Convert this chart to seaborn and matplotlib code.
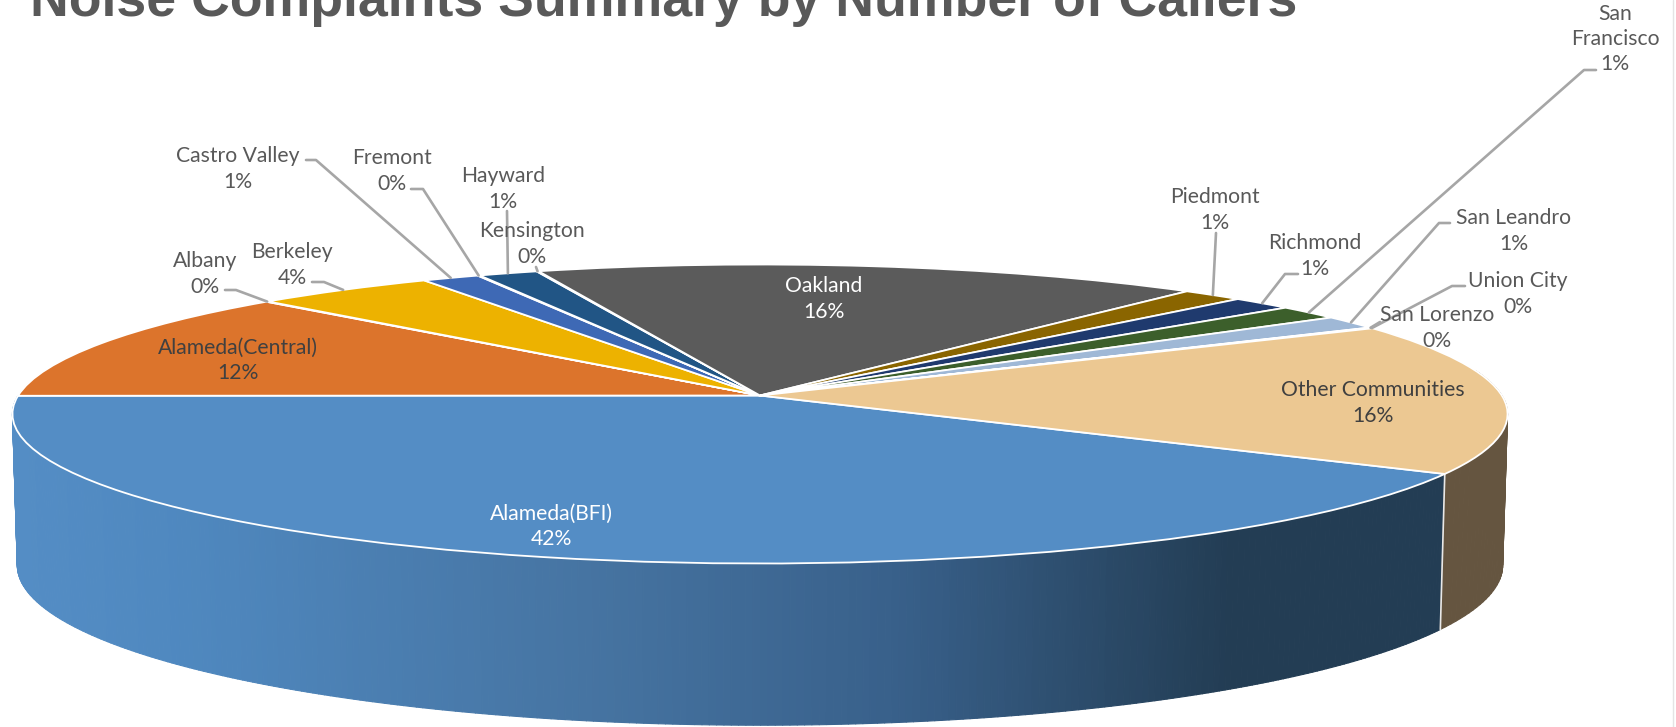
import numpy as np
import matplotlib
matplotlib.use("Agg")
import matplotlib.pyplot as plt
import matplotlib.transforms as mtransforms
from matplotlib.collections import PolyCollection
from matplotlib.colors import LinearSegmentedColormap
import seaborn as sns

# ---- data ----
title = "Noise Complaints Summary by Number of Callers"
categories = ["Alameda(BFI)", "Alameda(Central)", "Albany", "Berkeley", "Castro Valley",
              "Fremont", "Hayward", "Kensington", "Oakland", "Piedmont", "Richmond",
              "San\nFrancisco", "San Leandro", "San Lorenzo", "Union City", "Other Communities"]
values = [41.7, 12.2, 0.05, 4.45, 1.4, 0.05, 1.45, 0.05, 16.3, 1.5, 1.5, 1.55, 1.45, 0.05, 0.05, 16.4]
shown_pct = ["42%", "12%", "0%", "4%", "1%", "0%", "1%", "0%", "16%", "1%", "1%", "1%", "1%", "0%", "0%", "16%"]
colors = ["#548DC5", "#DC742C", "#A5A5A5", "#EDB200", "#3E69B5", "#6E9F45", "#215585", "#A5501F",
          "#5B5B5B", "#8A6500", "#1F3A6E", "#3C5F2B", "#9FB8D6", "#E2A26F", "#B0B0B0", "#ECC892"]

# ---- layout (pixels) ----
W, H = 1676, 727
CX = 760.0
TOP = dict(rx=741.8, ry=147.2, cy=395.5)
BOT = dict(rx=737.0, ry=157.5, cy=545.5)
P = 0.1237
START = -30.0
label_xy = [(551, 526), (238, 360), (205, 274), (292, 265), (238, 169), (392, 171), (503, 189),
            (532, 244), (824, 299), (1215, 210), (1315, 256), (1615, 39), (1514, 231), (1437, 328),
            (1518, 294), (1373, 403)]
label_color = ["white", "#404040", "#595959", "#595959", "#595959", "#595959", "#595959", "#595959",
               "white", "#595959", "#595959", "#595959", "#595959", "#595959", "#595959", "#404040"]
leaders = {2: [(225, 290), (236, 290)], 3: [(312, 282), (324, 282)], 4: [(306, 160), (316, 160)],
           5: [(411, 189), (423, 189)], 6: [(507, 211)], 7: [(536, 267)], 9: [(1216, 233)],
           10: [(1298, 274), (1285, 274)], 11: [(1596, 70), (1584, 70)], 12: [(1450, 223), (1439, 223)],
           13: [(1380, 322)], 14: [(1465, 286), (1452, 286)]}

sns.set_theme(style="white")
plt.rcParams["font.family"] = ["Lato", "DejaVu Sans"]
palette = sns.color_palette(colors)


def project(u, v, g=TOP):
    d = 1 + P * v
    return CX + g["rx"] * u / d, g["cy"] - g["ry"] * v / d


class Perspective(mtransforms.Transform):
    input_dims = output_dims = 2
    is_separable = False
    has_inverse = False

    def transform_non_affine(self, values):
        a = np.asarray(values, dtype=float)
        x, y = project(a[:, 0], a[:, 1])
        return np.column_stack([x, y])


fig, ax = plt.subplots(figsize=(W / 100, H / 100), dpi=100)
fig.subplots_adjust(0, 0, 1, 1)

wedges, _ = ax.pie(values, colors=palette, startangle=START, counterclock=False,
                   wedgeprops=dict(edgecolor="white", linewidth=1.3))
ax.set_aspect("auto")
ax.set_xlim(0, W)
ax.set_ylim(H, 0)
ax.axis("off")
tr = Perspective() + ax.transData
for w in wedges:
    w.set_transform(tr)
    w.set_zorder(3)

# angular limits of each slice, from the values
frac = np.array(values) / np.sum(values)
edges = START - 360 * np.concatenate([[0], np.cumsum(frac)])
mid = (edges[:-1] + edges[1:]) / 2


def wall_quads(a0, a1, n):
    th = np.radians(np.linspace(a0, a1, n + 1))
    xt, yt = project(np.cos(th), np.sin(th), TOP)
    xb, yb = project(np.cos(th), np.sin(th), BOT)
    quads = [[(xt[i], yt[i]), (xt[i + 1], yt[i + 1]), (xb[i + 1], yb[i + 1]), (xb[i], yb[i])] for i in range(n)]
    return quads, (xt[:-1] + xt[1:]) / 2


# gradient wall of the first slice
shade = LinearSegmentedColormap.from_list("wall", [(0, "#548DC5"), (0.12, "#4F88BF"), (0.40, "#4674A2"),
                                                   (0.62, "#38608A"), (0.85, "#233D54"), (1, "#233D54")])
quads, xm = wall_quads(edges[1], edges[0], 300)
shades = [shade(np.clip((x - 13) / (1445 - 13), 0, 1)) for x in xm]
ax.add_collection(PolyCollection(quads, facecolors=shades, edgecolors=shades, linewidths=0.8, zorder=1))
# wall of the last slice
quads2, _ = wall_quads(edges[0], edges[0] + 40, 40)
ax.add_collection(PolyCollection(quads2, facecolors="#655540", edgecolors="#655540", linewidths=0.8, zorder=1))
# seam between both walls
th0 = np.radians(START)
ax.plot([project(np.cos(th0), np.sin(th0), TOP)[0], project(np.cos(th0), np.sin(th0), BOT)[0]],
        [project(np.cos(th0), np.sin(th0), TOP)[1], project(np.cos(th0), np.sin(th0), BOT)[1]],
        color="#E8E8E8", lw=1.2, zorder=2)

# leader lines: end on the rim at the middle of the slice
for i, pts in leaders.items():
    th = np.radians(mid[i])
    ex, ey = project(np.cos(th), np.sin(th), TOP)
    xs = [p[0] for p in pts] + [ex]
    ys = [p[1] for p in pts] + [ey]
    ax.plot(xs, ys, color="#A6A6A6", lw=1.9, zorder=4, solid_joinstyle="round")

# labels
for name, pct, (x, y), c in zip(categories, shown_pct, label_xy, label_color):
    ax.text(x, y, f"{name}\n{pct}", ha="center", va="center", color=c, fontsize=15.2,
            linespacing=1.32, zorder=5)

ax.text(30, 16, title, ha="left", va="baseline", color="#595959", fontsize=38.6,
        fontweight="bold", family="Liberation Sans", zorder=5)
ax.plot([1672.5, 1672.5], [0, H], color="#E4E4E4", lw=1, zorder=0)

fig.savefig("out.png", dpi=100, facecolor="white")
